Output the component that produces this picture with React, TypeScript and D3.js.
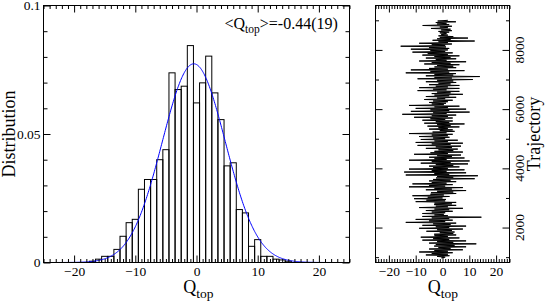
import * as d3 from 'd3';
import { useEffect, useRef } from 'react';

const W = 545;
const H = 303;
const font = 'Liberation Serif, Times New Roman, serif';

// histogram of Q_top, unit bins centred on integers
const qBins = [
  -17, -16, -15, -14, -13, -12, -11, -10, -9, -8, -7, -6, -5, -4, -3, -2, -1,
  0, 1, 2, 3, 4, 5, 6, 7, 8, 9, 10, 11, 12, 13, 14, 15,
];
const qFreq = [
  0.0005, 0.0013, 0.0024, 0.0024, 0.0051, 0.0102, 0.0155, 0.0168, 0.0285,
  0.0323, 0.0323, 0.04, 0.0439, 0.0738, 0.0673, 0.0686, 0.0844, 0.0621,
  0.0699, 0.0803, 0.066, 0.0556, 0.0376, 0.0388, 0.0206, 0.0193, 0.0063,
  0.0089, 0.0024, 0.0024, 0.0013, 0.001, 0.0005,
];

// gaussian fit
const fitMean = -0.44;
const fitSigma = 5.16;

// Q_top along the trajectory, read top-down (9000 -> ~1000, every 25)
const trajFirst = 9000;
const trajStep = 25;
const qTrace = [
  2.0, -1.8, 5.0, -2.5, 1.5, -2, 2.5, -7.4, 3.5, -1.0,
  2.0, -4.3, 3.0, -0.5, 3.5, -1.5, 2.5, -1.0, 1.5, -0.5,
  2.0, -1.5, 4.0, -1, 9.5, -2.0, 3.0, -3.7, 12.0, -1.5,
  2.0, -8.7, 3.5, -4.0, 1.0, -15.6, 1.3, -5.0, 2.5, -11.8,
  2.0, -4.5, 1.0, -11.2, 3.8, -5.5, 2.0, -7.5, 6.3, -3.0,
  3.0, -6.2, 5.1, -2.5, 1.5, -8.7, 8.8, -4.0, 3.0, -6.8,
  6.3, -2.0, 4.0, -3, 5.1, -5.0, 2.0, -11.8, 8.2, -4.5,
  2.5, -13.7, 5, -3.0, 4.0, -6.2, 13.9, -3.0, 3.5, -9.3,
  11.3, -2.0, 4.0, -6.2, 5.1, -1.5, 3.0, -5.0, 6.3, -2.5,
  2.0, -8.7, 6.3, -3.5, 1.5, -9.3, 6.3, -2.0, 3.0, -4,
  7.6, -3.0, 2.5, -6.2, 5.1, -2.0, 1.0, -6.8, 3.8, -3.5,
  2.0, -5, 1.3, -4.0, 0.5, -12.5, 6.3, -3.0, 2.0, -10,
  8.8, -4.5, 2.5, -11.8, 10.1, -3.5, 1.5, -15.0, 5.1, -4.0,
  2.0, -10.6, 3.8, -4.5, 1.0, -7.5, 3.8, -2.5, 2.5, -6.8,
  8.2, -2.0, 3.0, -5.6, 6.3, -1.5, 2.0, -5.0, 3.8, -1.0,
  4.5, -3.7, 1.5, -12.5, 3.8, -4.0, 2.0, -8.7, 2.6, -3.5,
  1.0, -8.1, 5.7, -3.0, 2.0, -10, 7.6, -4.0, 3.0, -9.3,
  6.9, -2.5, 3.5, -6.2, 5.7, -1.5, 4.0, -3, 7.6, -4.5,
  2.0, -10.6, 6.9, -2.0, 3.5, -5.0, 8.2, -3.0, 1.5, -12.5,
  10.1, -4.0, 3.0, -8.1, 9.5, -2.5, 4.0, -5, 6.3, -3.5,
  2.0, -12.5, 8.2, -4.0, 1.5, -14.3, 8.8, -3.0, 2.5, -13.7,
  13.2, -2.0, 4.0, -2.4, 12.0, -3.5, 3.0, -5, 5.1, -4.0,
  1.5, -11.2, 3.8, -5.0, 1.0, -12.5, 7.6, -3.0, 3.5, -6.2,
  8.8, -2.0, 4.0, -4.3, 5.1, -4.5, 0.5, -11.2, 2.6, -5.5,
  0.0, -10.6, 1.3, -6.0, 1.0, -10.0, 5.1, -3.0, 3.5, -3.1,
  5.1, -2.5, 2.0, -8.7, 7.6, -3.0, 2.5, -6.2, 3.8, -4.0,
  1.0, -7.5, 0.5, -3.0, 2.0, -7.5, 14.5, -4.0, 2.5, -10,
  3.8, -5.0, 1.0, -13.7, 5.1, -3.5, 3.0, -7.5, 8.8, -2.5,
  2.5, -8.7, 7.6, -2.0, 3.5, -6, 4.5, -1.0, 4.0, -3.1,
  5.1, -3.0, 2.0, -8.1, 6.3, -3.5, 2.5, -7.5, 8.8, -2.0,
  4.0, -5, 12.6, -2.5, 4.5, -3.1, 8.8, -1.5, 3.0, -5,
  7.6, -3.0, 2.0, -8.7, 3.8, -4.0, 2.0, -6.2, 2.6, -2.0,
  1.0, -0.5,
];

const qMajor = [-20, -10, 0, 10, 20];
const qMinor = d3.range(-25, 26).filter((v) => v % 10 !== 0);
const distMajor = [0, 0.05, 0.1];
const distMinor = d3.range(0, 11).filter((i) => i % 5 !== 0).map((i) => i / 100);
const trajMajor = [2000, 4000, 6000, 8000];
const trajMinor = [1000, 3000, 5000, 7000, 9000];

const drawAxis = (parent: any, gen: any, values: number[], size: number, fmt: any, pad = 4) => {
  const g = parent
    .append('g')
    .call(gen.tickValues(values).tickSize(size).tickSizeOuter(0).tickPadding(pad).tickFormat(fmt));
  g.select('.domain').remove();
  g.attr('font-family', font).attr('font-size', 13.5);
  g.selectAll('line').attr('stroke', '#000');
  g.selectAll('text').attr('fill', '#000').attr('font-family', font);
  return g;
};

const qLabel = (parent: any, cx: number, cy: number) => {
  const t = parent
    .append('text')
    .attr('x', cx)
    .attr('y', cy)
    .attr('text-anchor', 'middle')
    .attr('font-family', font)
    .attr('font-size', 18);
  t.append('tspan').text('Q');
  t.append('tspan').attr('dy', 5).attr('font-size', 13.5).text('top');
};

export default function App() {
  const svgRef = useRef<SVGSVGElement>(null);

  useEffect(() => {
    const svg = d3.select(svgRef.current);
    svg.selectAll('*').remove();

    // ---------- left panel: distribution
    const x = d3.scaleLinear().domain([-25, 25]).range([43.5, 349.5]);
    const y = d3.scaleLinear().domain([0, 0.1]).range([262.5, 5.5]);
    const left = svg.append('g');

    left
      .append('g')
      .selectAll('rect')
      .data(qBins)
      .join('rect')
      .attr('x', (d) => x(d - 0.5))
      .attr('width', (d) => x(d + 0.5) - x(d - 0.5))
      .attr('y', (d, i) => y(qFreq[i]))
      .attr('height', (d, i) => y(0) - y(qFreq[i]))
      .attr('fill', 'none')
      .attr('stroke', '#000')
      .attr('stroke-width', 1);

    const amp = 1 / (fitSigma * Math.sqrt(2 * Math.PI));
    const gauss = (q: number) => amp * Math.exp(-((q - fitMean) ** 2) / (2 * fitSigma * fitSigma));
    left
      .append('path')
      .datum(d3.range(-25, 25.001, 0.1))
      .attr('fill', 'none')
      .attr('stroke', '#0000ff')
      .attr('stroke-width', 1)
      .attr('d', d3.line<number>().x((d) => x(d)).y((d) => y(gauss(d))));

    const bottomL = left.append('g').attr('transform', `translate(0,${y(0)})`);
    drawAxis(bottomL, d3.axisBottom(x), qMajor, -7, d3.format('d'), 4);
    drawAxis(bottomL, d3.axisBottom(x), qMinor, -3.5, () => '');
    const topL = left.append('g').attr('transform', `translate(0,${y(0.1)})`);
    drawAxis(topL, d3.axisTop(x), qMajor, -7, () => '');
    drawAxis(topL, d3.axisTop(x), qMinor, -3.5, () => '');
    const leftL = left.append('g').attr('transform', `translate(${x(-25)},0)`);
    drawAxis(leftL, d3.axisLeft(y), distMajor, -7, d3.format('~g'), 3);
    drawAxis(leftL, d3.axisLeft(y), distMinor, -4, () => '');
    const rightL = left.append('g').attr('transform', `translate(${x(25)},0)`);
    drawAxis(rightL, d3.axisRight(y), distMajor, -7, () => '');
    drawAxis(rightL, d3.axisRight(y), distMinor, -4, () => '');

    left
      .append('rect')
      .attr('x', x(-25))
      .attr('y', y(0.1))
      .attr('width', x(25) - x(-25))
      .attr('height', y(0) - y(0.1))
      .attr('fill', 'none')
      .attr('stroke', '#000');

    left
      .append('text')
      .attr('transform', `translate(15,${(y(0) + y(0.1)) / 2}) rotate(-90)`)
      .attr('text-anchor', 'middle')
      .attr('font-family', font)
      .attr('font-size', 18)
      .text('Distribution');
    qLabel(left, 198.5, 292.5);

    const note = left
      .append('text')
      .attr('x', 224.5)
      .attr('y', 29)
      .attr('font-family', font)
      .attr('font-size', 16);
    note.append('tspan').text('<Q');
    note.append('tspan').attr('dy', 4).attr('font-size', 11.5).text('top');
    note.append('tspan').attr('dy', -4).text('>=-0.44(19)');

    // ---------- right panel: trajectory
    const xr = d3.scaleLinear().domain([-25, 25]).range([375.5, 509.5]);
    const yr = d3.scaleLinear().domain([820, 9500]).range([262.5, 5.5]);
    const right = svg.append('g');

    right
      .append('path')
      .datum(qTrace)
      .attr('fill', 'none')
      .attr('stroke', '#000')
      .attr('stroke-width', 1)
      .attr(
        'd',
        d3
          .line<number>()
          .x((d) => xr(d))
          .y((d, i) => yr(trajFirst - i * trajStep))
      );

    const bottomR = right.append('g').attr('transform', `translate(0,${yr(820)})`);
    drawAxis(bottomR, d3.axisBottom(xr), qMajor, -7, d3.format('d'), 4);
    drawAxis(bottomR, d3.axisBottom(xr), qMinor, -3.5, () => '');
    const topR = right.append('g').attr('transform', `translate(0,${yr(9500)})`);
    drawAxis(topR, d3.axisTop(xr), qMajor, -7, () => '');
    drawAxis(topR, d3.axisTop(xr), qMinor, -3.5, () => '');
    const leftR = right.append('g').attr('transform', `translate(${xr(-25)},0)`);
    drawAxis(leftR, d3.axisLeft(yr), trajMajor, -7, () => '');
    drawAxis(leftR, d3.axisLeft(yr), trajMinor, -3.5, () => '');
    const rightR = right.append('g').attr('transform', `translate(${xr(25)},0)`);
    drawAxis(rightR, d3.axisRight(yr), trajMajor, -7, () => '');
    drawAxis(rightR, d3.axisRight(yr), trajMinor, -3.5, () => '');

    right
      .append('g')
      .selectAll('text')
      .data(trajMajor)
      .join('text')
      .attr('transform', (d) => `translate(${xr(25) + 14.5},${yr(d)}) rotate(-90)`)
      .attr('text-anchor', 'middle')
      .attr('font-family', font)
      .attr('font-size', 13.5)
      .text((d) => d);

    right
      .append('rect')
      .attr('x', xr(-25))
      .attr('y', yr(9500))
      .attr('width', xr(25) - xr(-25))
      .attr('height', yr(820) - yr(9500))
      .attr('fill', 'none')
      .attr('stroke', '#000');

    right
      .append('text')
      .attr('transform', `translate(540,${(yr(820) + yr(9500)) / 2}) rotate(-90)`)
      .attr('text-anchor', 'middle')
      .attr('font-family', font)
      .attr('font-size', 18)
      .text('Trajectory');
    qLabel(right, 443, 292.5);
  }, []);

  return (
    <svg
      ref={svgRef}
      width={W}
      height={H}
      style={{ position: 'absolute', left: 0, top: 0, background: '#fff' }}
    />
  );
}
